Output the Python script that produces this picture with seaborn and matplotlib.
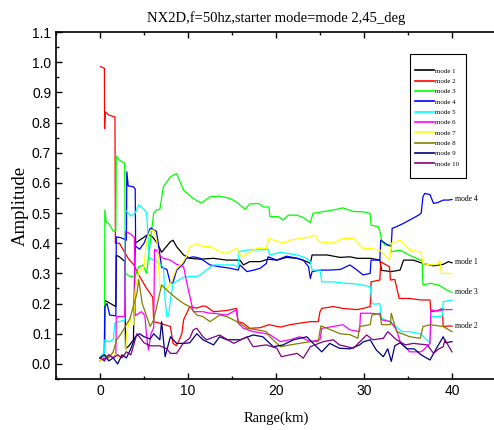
import pandas as pd
import seaborn as sns
import matplotlib.pyplot as plt
from matplotlib.patches import Rectangle
from matplotlib.ticker import MultipleLocator

# range (km) / amplitude for each mode
m1_x = [0, 0.3, 0.5, 0.55, 0.9, 1.5, 1.8, 1.85, 2.2, 2.8, 2.9, 3.3, 3.8, 4.0, 4.5, 5.0, 5.5, 6.0, 6.5, 7.0, 7.2, 8.0, 8.3, 8.7, 9.5, 10.2, 11.4, 12.9, 14.4, 15.9, 16.3, 17.0, 18.2, 19.1, 20.1, 21.2, 22.4, 23.5, 23.9, 24.1, 25.8, 27.3, 28.4, 29.2, 30.7, 31.8, 32.0, 33.1, 34.1, 34.5, 35.6, 36.7, 37.9, 39.0, 39.6, 40.0]
m1_y = [0.02, 0.03, 0.02, 0.21, 0.205, 0.195, 0.19, 0.36, 0.355, 0.34, 0.05, 0.06, 0.08, 0.40, 0.41, 0.42, 0.43, 0.42, 0.40, 0.37, 0.377, 0.405, 0.41, 0.389, 0.361, 0.35, 0.347, 0.35, 0.344, 0.344, 0.328, 0.339, 0.339, 0.347, 0.344, 0.353, 0.35, 0.339, 0.333, 0.361, 0.361, 0.353, 0.355, 0.35, 0.35, 0.344, 0.31, 0.306, 0.311, 0.344, 0.344, 0.333, 0.325, 0.33, 0.339, 0.335]

m2_x = [0.05, 0.5, 0.52, 0.6, 1.0, 1.7, 1.75, 2.2, 2.8, 3.2, 3.5, 3.8, 4.4, 5.3, 5.7, 6.0, 6.1, 6.8, 8.0, 8.3, 8.7, 9.3, 9.5, 10.2, 11.0, 11.7, 12.1, 12.9, 14.4, 15.5, 15.7, 16.3, 17.0, 18.2, 19.2, 20.5, 21.6, 22.7, 23.9, 24.8, 25.0, 25.2, 26.5, 27.6, 29.2, 29.9, 30.7, 30.8, 31.8, 31.9, 32.4, 32.9, 33.0, 33.5, 34.0, 35.2, 36.4, 37.5, 37.6, 38.4, 38.9, 39.0, 39.7, 40.0]
m2_y = [0.985, 0.98, 0.78, 0.835, 0.825, 0.818, 0.40, 0.40, 0.37, 0.35, 0.339, 0.33, 0.295, 0.25, 0.234, 0.22, 0.14, 0.135, 0.124, 0.068, 0.06, 0.10, 0.146, 0.19, 0.185, 0.192, 0.19, 0.173, 0.177, 0.184, 0.14, 0.135, 0.118, 0.12, 0.13, 0.122, 0.13, 0.135, 0.14, 0.14, 0.173, 0.184, 0.19, 0.184, 0.18, 0.184, 0.19, 0.272, 0.278, 0.339, 0.33, 0.322, 0.278, 0.28, 0.217, 0.217, 0.212, 0.212, 0.173, 0.177, 0.184, 0.124, 0.126, 0.125]

m3_x = [0, 0.3, 0.5, 0.55, 0.7, 1.0, 1.5, 1.8, 1.85, 2.2, 2.8, 2.9, 3.4, 4.0, 4.4, 4.9, 5.3, 6.1, 6.4, 6.8, 7.2, 8.0, 8.7, 9.5, 10.6, 11.5, 12.5, 13.6, 14.8, 15.5, 16.5, 17.0, 18.0, 18.6, 19.2, 19.3, 20.3, 20.8, 21.4, 22.4, 23.3, 23.9, 24.2, 25.2, 26.5, 27.6, 28.8, 29.9, 30.7, 30.8, 31.6, 31.8, 32.0, 32.4, 33.0, 33.1, 34.1, 35.2, 36.4, 36.6, 36.7, 37.5, 38.4, 38.8, 39.4, 40.0]
m3_y = [0.02, 0.03, 0.02, 0.51, 0.47, 0.465, 0.44, 0.44, 0.689, 0.675, 0.665, 0.30, 0.29, 0.29, 0.322, 0.328, 0.30, 0.50, 0.51, 0.512, 0.587, 0.62, 0.631, 0.576, 0.548, 0.533, 0.554, 0.556, 0.548, 0.537, 0.512, 0.53, 0.532, 0.52, 0.52, 0.488, 0.488, 0.477, 0.493, 0.493, 0.482, 0.468, 0.499, 0.504, 0.51, 0.517, 0.505, 0.504, 0.499, 0.46, 0.455, 0.44, 0.41, 0.394, 0.394, 0.372, 0.377, 0.36, 0.344, 0.344, 0.262, 0.267, 0.262, 0.256, 0.245, 0.237]

m4_x = [0, 0.3, 0.5, 0.55, 0.8, 1.1, 1.6, 1.8, 1.85, 2.4, 3.0, 3.05, 3.2, 3.8, 4.0, 4.05, 4.5, 5.0, 5.7, 5.8, 6.4, 6.6, 7.0, 7.6, 8.0, 8.3, 8.7, 9.5, 9.8, 10.6, 11.4, 12.5, 13.6, 14.8, 15.7, 15.9, 16.7, 17.5, 18.2, 18.9, 19.1, 20.1, 21.2, 22.4, 23.1, 23.7, 23.9, 24.1, 25.0, 26.1, 27.3, 28.4, 29.2, 29.9, 30.7, 30.8, 31.8, 31.9, 32.7, 33.1, 33.2, 33.7, 34.5, 35.2, 36.2, 36.5, 36.7, 36.9, 37.5, 37.9, 38.4, 39.0, 39.6, 40.0]
m4_y = [0.01, 0.02, 0.01, 0.19, 0.20, 0.162, 0.16, 0.16, 0.421, 0.418, 0.41, 0.637, 0.59, 0.587, 0.58, 0.39, 0.38, 0.40, 0.449, 0.45, 0.44, 0.405, 0.32, 0.313, 0.267, 0.27, 0.31, 0.333, 0.35, 0.355, 0.35, 0.328, 0.322, 0.317, 0.311, 0.328, 0.306, 0.311, 0.317, 0.333, 0.355, 0.344, 0.357, 0.35, 0.344, 0.322, 0.283, 0.306, 0.311, 0.311, 0.313, 0.328, 0.311, 0.295, 0.30, 0.344, 0.344, 0.41, 0.394, 0.39, 0.449, 0.455, 0.466, 0.477, 0.493, 0.50, 0.554, 0.565, 0.561, 0.532, 0.535, 0.543, 0.543, 0.545]

m5_x = [0, 0.3, 0.5, 0.55, 0.9, 1.5, 1.7, 2.8, 2.9, 3.5, 4.0, 4.4, 4.7, 5.1, 5.3, 5.6, 6.1, 6.4, 7.2, 7.4, 7.6, 7.8, 8.0, 8.3, 9.5, 10.2, 11.0, 11.4, 12.1, 12.9, 14.0, 15.2, 15.7, 15.8, 16.7, 18.2, 19.1, 19.3, 20.5, 22.4, 23.5, 23.9, 24.1, 25.0, 25.2, 26.5, 28.0, 29.2, 30.7, 30.9, 31.2, 31.8, 32.0, 33.0, 34.3, 35.2, 36.4, 37.5, 37.6, 38.4, 38.9, 39.0, 40.0]
m5_y = [0.02, 0.03, 0.02, 0.08, 0.073, 0.08, 0.135, 0.146, 0.51, 0.49, 0.50, 0.527, 0.52, 0.51, 0.50, 0.35, 0.344, 0.34, 0.322, 0.212, 0.157, 0.16, 0.212, 0.267, 0.287, 0.29, 0.29, 0.295, 0.311, 0.328, 0.328, 0.328, 0.322, 0.372, 0.378, 0.378, 0.38, 0.361, 0.37, 0.361, 0.35, 0.339, 0.311, 0.311, 0.272, 0.272, 0.267, 0.265, 0.256, 0.20, 0.198, 0.20, 0.151, 0.14, 0.107, 0.107, 0.10, 0.07, 0.157, 0.157, 0.16, 0.206, 0.212]

m6_x = [0, 0.5, 1.0, 1.5, 1.8, 1.85, 2.8, 2.9, 3.5, 3.9, 4.0, 4.7, 5.1, 5.3, 5.5, 5.8, 6.1, 6.2, 6.4, 6.8, 7.2, 8.0, 8.7, 9.5, 9.8, 10.6, 11.7, 12.5, 12.9, 14.4, 15.5, 15.7, 16.3, 17.4, 18.5, 19.3, 20.5, 21.6, 22.7, 23.9, 25.0, 25.2, 26.5, 27.6, 28.4, 29.5, 29.6, 30.7, 31.8, 32.0, 33.0, 33.7, 34.1, 35.2, 36.4, 36.7, 37.5, 37.6, 38.4, 39.0, 40.0]
m6_y = [0.02, 0.015, 0.03, 0.02, 0.03, 0.157, 0.157, 0.44, 0.43, 0.42, 0.16, 0.173, 0.16, 0.09, 0.046, 0.10, 0.12, 0.38, 0.377, 0.36, 0.35, 0.344, 0.33, 0.322, 0.278, 0.173, 0.173, 0.168, 0.168, 0.162, 0.179, 0.135, 0.118, 0.107, 0.102, 0.097, 0.074, 0.08, 0.09, 0.074, 0.08, 0.118, 0.124, 0.13, 0.113, 0.107, 0.168, 0.168, 0.165, 0.146, 0.14, 0.113, 0.074, 0.04, 0.04, 0.045, 0.068, 0.179, 0.175, 0.18, 0.18]

m7_x = [0, 0.5, 1.0, 1.5, 2.0, 2.5, 2.9, 3.0, 3.4, 3.8, 4.0, 4.4, 5.0, 5.3, 5.7, 6.1, 6.5, 6.8, 7.6, 8.0, 8.7, 9.3, 9.8, 10.2, 11.0, 11.7, 12.5, 13.6, 14.4, 15.5, 16.1, 17.8, 18.9, 19.2, 20.8, 21.6, 23.9, 24.4, 25.0, 26.5, 27.6, 28.8, 29.9, 30.7, 31.8, 32.9, 33.1, 34.1, 35.2, 36.5, 36.7, 37.5, 38.4, 38.6, 38.8, 39.6, 40.0]
m7_y = [0.01, 0.03, 0.02, 0.04, 0.02, 0.03, 0.03, 0.10, 0.15, 0.13, 0.25, 0.306, 0.32, 0.41, 0.44, 0.444, 0.40, 0.256, 0.25, 0.267, 0.317, 0.333, 0.355, 0.389, 0.399, 0.389, 0.389, 0.372, 0.366, 0.383, 0.355, 0.383, 0.383, 0.416, 0.40, 0.41, 0.421, 0.427, 0.405, 0.40, 0.416, 0.416, 0.383, 0.383, 0.377, 0.344, 0.40, 0.41, 0.377, 0.37, 0.333, 0.328, 0.33, 0.344, 0.30, 0.30, 0.298]

m8_x = [0, 0.5, 1.0, 1.5, 1.9, 2.4, 2.8, 3.4, 4.2, 4.4, 4.8, 5.7, 6.1, 7.0, 7.4, 8.0, 8.7, 9.5, 10.2, 11.0, 11.7, 12.5, 13.6, 14.4, 15.9, 16.7, 17.8, 18.9, 19.3, 20.5, 21.6, 23.9, 24.8, 25.1, 25.8, 27.3, 28.4, 29.3, 29.5, 30.7, 30.9, 31.8, 32.0, 33.0, 33.1, 33.7, 35.2, 36.4, 36.7, 37.5, 39.0, 40.0]
m8_y = [0.02, 0.03, 0.02, 0.04, 0.08, 0.10, 0.12, 0.15, 0.234, 0.28, 0.20, 0.124, 0.146, 0.262, 0.25, 0.234, 0.217, 0.20, 0.19, 0.162, 0.157, 0.14, 0.162, 0.157, 0.135, 0.118, 0.113, 0.107, 0.09, 0.057, 0.063, 0.074, 0.074, 0.126, 0.118, 0.10, 0.097, 0.085, 0.124, 0.13, 0.162, 0.168, 0.13, 0.13, 0.168, 0.107, 0.09, 0.085, 0.124, 0.13, 0.124, 0.107]

m9_x = [0, 0.5, 1.0, 1.5, 2.0, 2.5, 3.0, 3.5, 4.0, 4.5, 5.0, 5.7, 6.1, 6.8, 7.0, 7.4, 8.0, 8.7, 9.5, 10.2, 11.0, 11.7, 12.9, 13.6, 14.4, 15.9, 17.4, 18.5, 19.7, 20.8, 22.0, 23.5, 24.4, 25.2, 26.1, 27.2, 28.4, 29.5, 29.9, 30.7, 31.4, 32.2, 32.7, 33.1, 33.5, 34.1, 34.9, 35.7, 36.5, 37.5, 38.2, 39.0, 39.3, 40.0]
m9_y = [0.02, 0.03, 0.01, 0.02, 0.0, 0.03, 0.02, 0.05, 0.09, 0.10, 0.09, 0.083, 0.10, 0.08, 0.14, 0.024, 0.09, 0.068, 0.068, 0.07, 0.10, 0.08, 0.063, 0.09, 0.08, 0.08, 0.096, 0.09, 0.057, 0.063, 0.08, 0.09, 0.063, 0.04, 0.068, 0.052, 0.05, 0.063, 0.073, 0.08, 0.046, 0.024, 0.05, 0.008, 0.06, 0.07, 0.05, 0.05, 0.03, 0.013, 0.05, 0.09, 0.07, 0.074]

m10_x = [0, 0.5, 1.0, 1.5, 2.0, 2.5, 3.0, 3.5, 4.0, 4.2, 5.0, 5.7, 6.8, 7.6, 8.0, 8.7, 9.5, 10.2, 10.6, 11.0, 11.7, 12.1, 13.6, 15.2, 16.7, 17.4, 18.9, 20.1, 20.6, 22.4, 23.1, 23.9, 25.4, 26.5, 27.2, 28.8, 30.3, 31.0, 32.2, 32.7, 33.7, 34.7, 35.6, 37.2, 37.9, 38.5, 39.0, 39.2, 40.0]
m10_y = [0.02, 0.01, 0.03, 0.02, 0.03, 0.02, 0.04, 0.03, 0.08, 0.10, 0.07, 0.06, 0.06, 0.05, 0.035, 0.035, 0.07, 0.085, 0.113, 0.118, 0.09, 0.08, 0.096, 0.068, 0.09, 0.057, 0.063, 0.052, 0.024, 0.035, 0.019, 0.057, 0.074, 0.08, 0.063, 0.052, 0.096, 0.08, 0.085, 0.107, 0.08, 0.063, 0.068, 0.063, 0.035, 0.05, 0.057, 0.08, 0.04]

modes = ["mode 1", "mode 2", "mode 3", "mode 4", "mode 5",
         "mode 6", "mode 7", "mode 8", "mode 9", "mode 10"]
colors = ["#000000", "#ff0000", "#00ff00", "#0000ff", "#00ffff",
          "#ff00ff", "#ffff00", "#808000", "#000080", "#800080"]
xs = [m1_x, m2_x, m3_x, m4_x, m5_x, m6_x, m7_x, m8_x, m9_x, m10_x]
ys = [m1_y, m2_y, m3_y, m4_y, m5_y, m6_y, m7_y, m8_y, m9_y, m10_y]

frames = []
for name, x, y in zip(modes, xs, ys):
    frames.append(pd.DataFrame({"range": x, "amp": y, "mode": name}))
df = pd.concat(frames, ignore_index=True)

fig = plt.figure(figsize=(4.94, 4.30), dpi=100)
ax = fig.add_axes([56 / 494, 1 - 379 / 430, 440 / 494, 347 / 430])

sns.lineplot(data=df, x="range", y="amp", hue="mode", palette=dict(zip(modes, colors)),
             estimator=None, sort=False, linewidth=0.9, ax=ax, legend=False)

serif = "Liberation Serif"
narrow = ["Liberation Sans Narrow", "Liberation Sans"]

ax.set_xlim(-5, 45)
ax.set_ylim(-0.05, 1.1)
ax.xaxis.set_major_locator(MultipleLocator(10))
ax.xaxis.set_minor_locator(MultipleLocator(5))
ax.yaxis.set_major_locator(MultipleLocator(0.1))
ax.yaxis.set_minor_locator(MultipleLocator(0.05))
ax.tick_params(which="both", direction="in", top=True, right=False, width=1)
ax.tick_params(which="major", length=4, labelsize=10)
ax.tick_params(which="minor", length=2.5)
ax.set_yticklabels([f"{v:.1f}" for v in ax.get_yticks()])
for lab in ax.get_xticklabels() + ax.get_yticklabels():
    lab.set_family(narrow)
for s in ax.spines.values():
    s.set_linewidth(1.2)

ax.set_xlabel("Range(km)", family=serif, fontsize=10.5, labelpad=10)
ax.set_ylabel("Amplitude", family=serif, fontsize=13.5, labelpad=2)
ax.set_title("NX2D,f=50hz,starter mode=mode 2,45_deg", family=serif, fontsize=10.5, pad=7)

# legend: box drawn by hand, entries without frame
ax.add_patch(Rectangle((354 / 440, 201 / 347), 56 / 440, 124 / 347, transform=ax.transAxes,
                       facecolor="white", edgecolor="black", lw=0.8, zorder=5))
handles = [plt.Line2D([], [], color=c, lw=1.2) for c in colors]
leg = ax.legend(handles, modes, loc="upper left", bbox_to_anchor=(359 / 440, 1 - 36 / 347),
                prop={"family": serif, "size": 5}, frameon=False,
                handlelength=2.7, handletextpad=0.2, labelspacing=0.64,
                borderpad=0, borderaxespad=0)
leg.set_zorder(6)

# labels at the line ends
for txt, yv in [("mode 4", 0.546), ("mode 1", 0.338), ("mode 3", 0.238), ("mode 2", 0.125)]:
    ax.text(40.3, yv, txt, family=serif, fontsize=5.5, va="center", ha="left")

fig.savefig("out.png", dpi=100)
